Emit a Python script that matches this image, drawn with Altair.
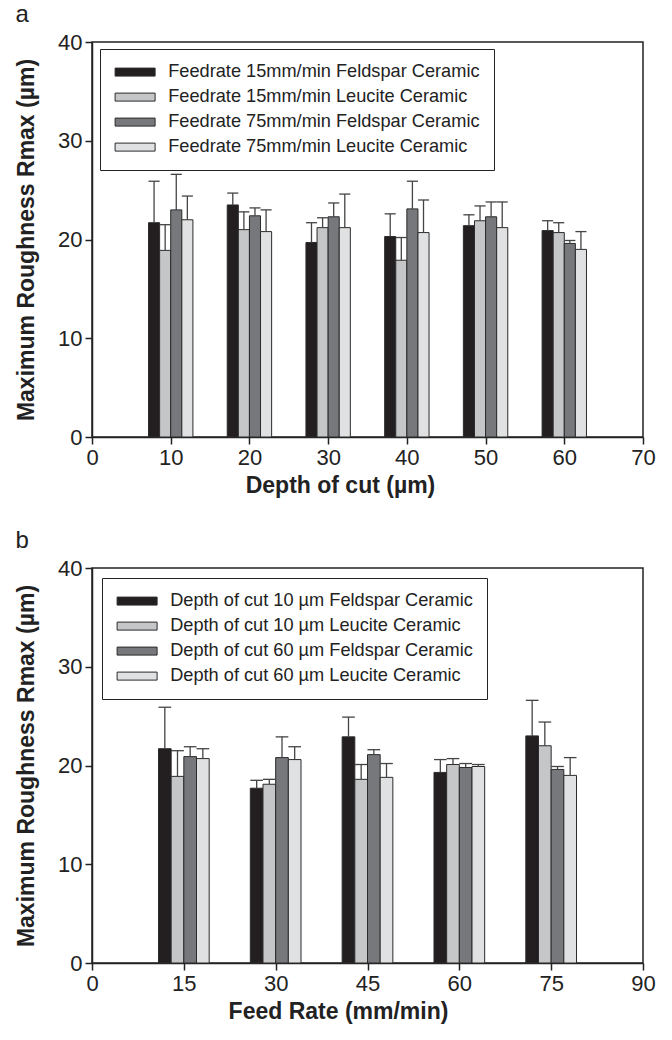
import altair as alt
import pandas as pd

FONT = "Liberation Sans"

# ---------------- Panel a data ----------------
a_groups = [10, 20, 30, 40, 50, 60]
a_series = [
    "Feedrate 15mm/min Feldspar Ceramic",
    "Feedrate 15mm/min Leucite Ceramic",
    "Feedrate 75mm/min Feldspar Ceramic",
    "Feedrate 75mm/min Leucite Ceramic",
]
a_f15_feld = [21.7, 23.5, 19.7, 20.3, 21.4, 20.9]
a_f15_feld_sd = [4.2, 1.2, 2.0, 2.3, 1.1, 1.0]
a_f15_leu = [18.9, 21.0, 21.2, 17.9, 21.9, 20.7]
a_f15_leu_sd = [2.6, 1.8, 1.0, 2.3, 1.5, 1.0]
a_f75_feld = [23.0, 22.4, 22.3, 23.1, 22.3, 19.6]
a_f75_feld_sd = [3.6, 0.8, 1.4, 2.8, 1.5, 0.3]
a_f75_leu = [22.0, 20.8, 21.2, 20.7, 21.2, 19.0]
a_f75_leu_sd = [2.4, 2.2, 3.4, 3.3, 2.6, 1.8]

# ---------------- Panel b data ----------------
b_groups = [15, 30, 45, 60, 75]
b_series = [
    "Depth of cut 10 \u00b5m Feldspar Ceramic",
    "Depth of cut 10 \u00b5m Leucite Ceramic",
    "Depth of cut 60 \u00b5m Feldspar Ceramic",
    "Depth of cut 60 \u00b5m Leucite Ceramic",
]
b_d10_feld = [21.7, 17.7, 22.9, 19.3, 23.0]
b_d10_feld_sd = [4.2, 0.8, 2.0, 1.3, 3.6]
b_d10_leu = [18.9, 18.1, 18.6, 20.1, 22.0]
b_d10_leu_sd = [2.6, 0.5, 1.5, 0.6, 2.4]
b_d60_feld = [20.9, 20.8, 21.1, 19.8, 19.6]
b_d60_feld_sd = [1.0, 2.1, 0.5, 0.4, 0.3]
b_d60_leu = [20.7, 20.6, 18.8, 19.9, 19.0]
b_d60_leu_sd = [1.0, 1.3, 1.4, 0.2, 1.8]

COLORS = ["#231f20", "#c5c6c8", "#77787b", "#e0e1e2"]
EDGE = "#2b2b2b"
ERRC = "#444444"
SYMBOL = "M-5,-1L5,-1L5,1L-5,1Z"


def panel(groups, series, vals, sds, xmax, xstep, barw, xtitle, letter, legx, legy, titlex):
    rows = []
    for i, (name, v, s) in enumerate(zip(series, vals, sds)):
        for g, val, sd in zip(groups, v, s):
            xc = g + (i - 1.5) * barw
            rows.append(dict(series=name, order=i, value=val, top=val + sd,
                             xc=xc, x1=xc - barw / 2, x2=xc + barw / 2))
    df = pd.DataFrame(rows)
    xscale = alt.Scale(domain=[0, xmax], nice=False, zero=True)
    yscale = alt.Scale(domain=[0, 40], nice=False)
    xaxis = alt.Axis(values=list(range(0, xmax + 1, xstep)), title=xtitle, grid=False,
                     labelFlush=False, labelOverlap=False, labelPadding=3, titlePadding=6,
                     titleX=titlex, titleAlign="center")
    yaxis = alt.Axis(values=[0, 10, 20, 30, 40], title="Maximum Roughness Rmax (\u00b5m)",
                     grid=False, labelPadding=3, titlePadding=19)
    legend = alt.Legend(
        title=None, orient="none", legendX=legx, legendY=legy,
        symbolType=SYMBOL, symbolSize=64, symbolOffset=12, labelOffset=24,
        symbolStrokeColor=EDGE, symbolStrokeWidth=1, labelLimit=500,
        labelFont=FONT, labelFontSize=18.2, labelColor="#222222",
        fillColor="white", strokeColor="#222222", padding=14, rowPadding=6,
    )
    base = alt.Chart(df)
    bars = base.mark_bar(stroke=EDGE, strokeWidth=1).encode(
        x=alt.X("x1:Q", scale=xscale, axis=xaxis),
        x2="x2:Q",
        y=alt.Y("value:Q", scale=yscale, axis=yaxis),
        y2=alt.datum(0),
        color=alt.Color("series:N", scale=alt.Scale(domain=series, range=COLORS), legend=legend),
    )
    err = base.mark_rule(color=ERRC, strokeWidth=1.3).encode(
        x="xc:Q", y="value:Q", y2="top:Q")
    cap = base.mark_rule(color=ERRC, strokeWidth=1.3).encode(
        x="x1:Q", x2="x2:Q", y="top:Q")
    return alt.layer(bars, err, cap).properties(
        width=551, height=395,
        title=alt.TitleParams(letter, anchor="start", frame="bounds", fontSize=24,
                              font=FONT, fontWeight="normal", color="#222222", offset=4),
    )


pa = panel(a_groups, a_series,
           [a_f15_feld, a_f15_leu, a_f75_feld, a_f75_leu],
           [a_f15_feld_sd, a_f15_leu_sd, a_f75_feld_sd, a_f75_leu_sd],
           70, 10, 1.41, "Depth of cut (\u00b5m)", "a", 8, 7, 248)
pb = panel(b_groups, b_series,
           [b_d10_feld, b_d10_leu, b_d60_feld, b_d60_leu],
           [b_d10_feld_sd, b_d10_leu_sd, b_d60_feld_sd, b_d60_leu_sd],
           90, 15, 2.07, "Feed Rate (mm/min)", "b", 10, 10, 246)

chart = alt.vconcat(pa, pb, spacing=30).resolve_scale(color="independent").properties(
    padding={"left": 14, "top": 2, "right": 5, "bottom": 5}
).configure_view(stroke="#222222", strokeWidth=1.5).configure_axis(
    labelFont=FONT, labelFontSize=22, labelColor="#222222",
    titleFont=FONT, titleFontSize=23, titleFontWeight="bold", titleColor="#222222",
    domainColor="#222222", domainWidth=1.5, tickColor="#222222", tickWidth=1.5, tickSize=7,
)

chart.save("out.html", embed_options={"renderer": "svg", "actions": False})
